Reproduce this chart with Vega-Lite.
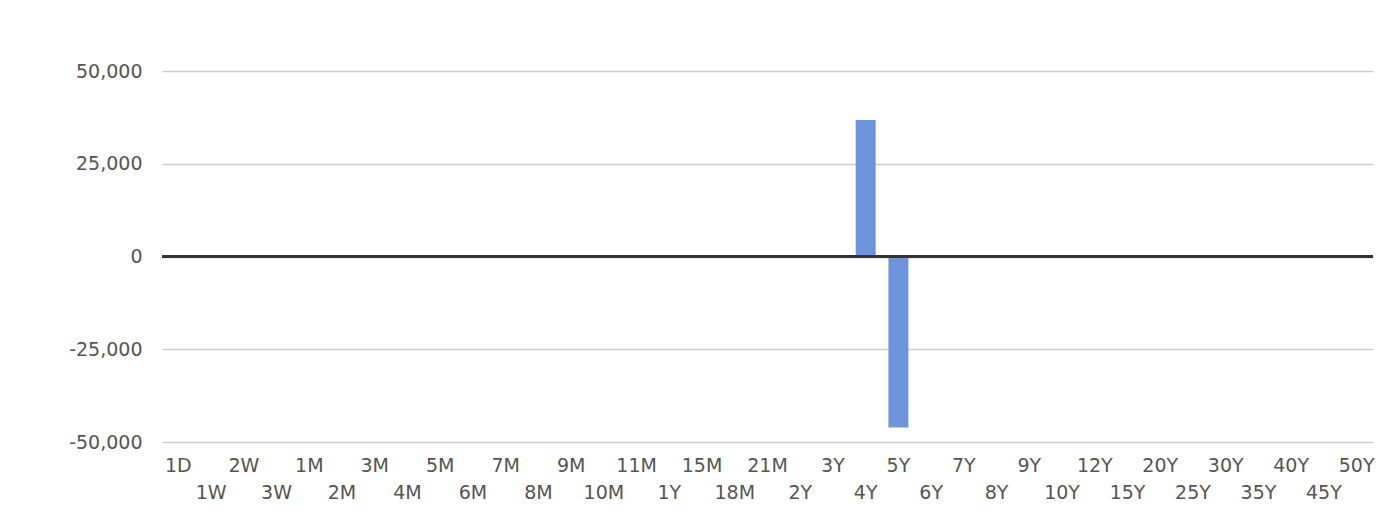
{
  "$schema": "https://vega.github.io/schema/vega-lite/v6.json",
  "width": 1211,
  "height": 371,
  "autosize": {"type": "none"},
  "padding": {"left": 162, "top": 71, "right": 17, "bottom": 76},
  "background": "white",
  "config": {"view": {"stroke": null}, "font": "DejaVu Sans"},
  "data": {"values": [
    {"tenor": "1D", "value": 0}, {"tenor": "1W", "value": 0}, {"tenor": "2W", "value": 0}, {"tenor": "3W", "value": 0},
    {"tenor": "1M", "value": 0}, {"tenor": "2M", "value": 0}, {"tenor": "3M", "value": 0}, {"tenor": "4M", "value": 0},
    {"tenor": "5M", "value": 0}, {"tenor": "6M", "value": 0}, {"tenor": "7M", "value": 0}, {"tenor": "8M", "value": 0},
    {"tenor": "9M", "value": 0}, {"tenor": "10M", "value": 0}, {"tenor": "11M", "value": 0}, {"tenor": "1Y", "value": 0},
    {"tenor": "15M", "value": 0}, {"tenor": "18M", "value": 0}, {"tenor": "21M", "value": 0}, {"tenor": "2Y", "value": 0},
    {"tenor": "3Y", "value": 0}, {"tenor": "4Y", "value": 36800}, {"tenor": "5Y", "value": -46100}, {"tenor": "6Y", "value": 0},
    {"tenor": "7Y", "value": 0}, {"tenor": "8Y", "value": 0}, {"tenor": "9Y", "value": 0}, {"tenor": "10Y", "value": 0},
    {"tenor": "12Y", "value": 0}, {"tenor": "15Y", "value": 0}, {"tenor": "20Y", "value": 0}, {"tenor": "25Y", "value": 0},
    {"tenor": "30Y", "value": 0}, {"tenor": "35Y", "value": 0}, {"tenor": "40Y", "value": 0}, {"tenor": "45Y", "value": 0},
    {"tenor": "50Y", "value": 0}
  ]},
  "layer": [
    {
      "mark": {"type": "bar", "color": "#6d94db"},
      "encoding": {
        "x": {
          "field": "tenor", "type": "nominal", "sort": null,
          "scale": {"paddingInner": 0.39, "paddingOuter": 0.195},
          "axis": {
            "title": null, "domain": false, "ticks": false, "grid": false,
            "labelAngle": 0, "labelOverlap": false, "labelFont": "DejaVu Sans",
            "labelFontSize": 19, "labelColor": "#555555", "labelPadding": 14,
            "labelLineHeight": 27, "labelBaseline": "top",
            "labelExpr": "round(datum.index*36) % 2 ? ['', datum.label] : datum.label"
          }
        },
        "y": {
          "field": "value", "type": "quantitative",
          "scale": {"domain": [-50000, 50000], "nice": false},
          "axis": {
            "title": null, "domain": false, "ticks": false,
            "values": [-50000, -25000, 0, 25000, 50000], "format": ",d",
            "labelExpr": "replace(datum.label, '\u2212', '-')",
            "labelFont": "DejaVu Sans", "labelFontSize": 19, "labelColor": "#555555",
            "labelPadding": 20, "gridColor": "#cccccc", "gridWidth": 1.5
          }
        }
      }
    },
    {
      "mark": {"type": "rule", "color": "#333333", "strokeWidth": 2},
      "encoding": {"y": {"datum": 0}}
    }
  ]
}
